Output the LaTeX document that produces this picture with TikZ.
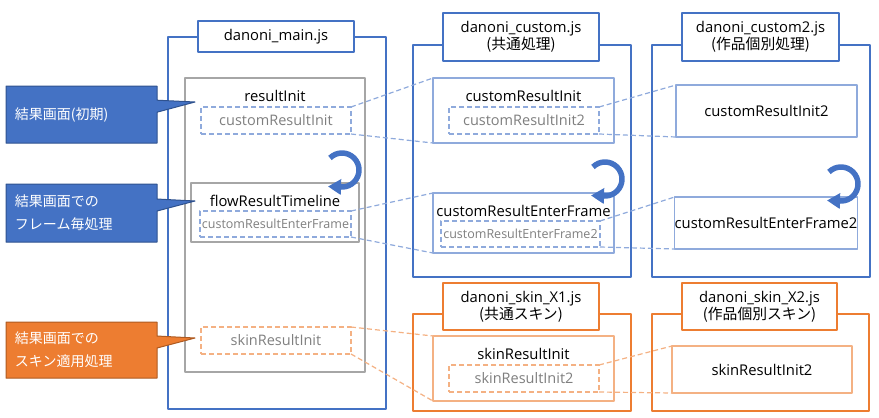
\documentclass[tikz,border=0pt]{standalone}
\usepackage{fontspec}
\setmainfont{Open Sans}
\newfontfamily\jp{Noto Sans CJK JP}
\usetikzlibrary{shapes.callouts,arrows.meta}
\definecolor{ofblue}{HTML}{4472C4}
\definecolor{lblue}{HTML}{8FAADC}
\definecolor{cdblue}{HTML}{2F528F}
\definecolor{oforange}{HTML}{ED7D31}
\definecolor{lorange}{HTML}{F4B183}
\definecolor{cdorange}{HTML}{AE5A21}
\definecolor{gline}{HTML}{A6A6A6}
\definecolor{txtgray}{HTML}{7F7F7F}
\begin{document}
\begin{tikzpicture}[x=1pt,y=-1pt,line join=round,
  every node/.style={inner sep=0pt,outer sep=0pt,font=\fontsize{14.8}{17}\selectfont},
  jsfile/.style={draw=#1,line width=1.4pt},
  jstitle/.style={draw=#1,line width=1.4pt,fill=white,align=center,font=\fontsize{14.8}{17}\selectfont},
  func/.style={draw=#1,line width=1.2pt,fill=white},
  hook/.style={draw=#1,line width=1.2pt,dash pattern=on 5pt off 3pt,text=txtgray,font=\fontsize{14.5}{17}\selectfont},
  small/.style={font=\fontsize{12.5}{14}\selectfont},
  link/.style={draw=#1,line width=1.2pt,dash pattern=on 5pt off 3pt},
  loop/.style={draw=ofblue,line width=5.5pt,-{Triangle[length=13pt,width=15pt]}},
  note/.style={rectangle callout,fill=#1,text=white,align=left,text width=133pt,inner sep=9pt,
    line width=1pt,font=\jp\fontsize{14}{23}\selectfont,callout pointer width=12pt}]
\useasboundingbox (0,0) rectangle (879,418);

% danoni_main.js
\node[jsfile=ofblue,minimum width=218,minimum height=372] (mainF) at (277,223) {};
\node[jstitle=ofblue,minimum width=156,minimum height=31] (mainT) at (276,36.5) {danoni\_main.js};
\node[draw=gline,line width=1.2pt,minimum width=180,minimum height=294] (resInit) at (275,225) {};
\node (resInitL) at (275,96) {resultInit};
\node[hook=lblue,minimum width=150,minimum height=27] (mCRI) at (276,120.5) {customResultInit};
\node[draw=gline,line width=1.2pt,fill=white,minimum width=168,minimum height=59] (flowTL) at (275,212.5) {};
\node (flowTLL) at (275,201) {flowResultTimeline};
\node[hook=lblue,small,minimum width=151,minimum height=26] (mCREF) at (275.5,224) {customResultEnterFrame};
\node[hook=lorange,minimum width=150,minimum height=27] (mSRI) at (276,340.5) {skinResultInit};

% danoni_custom.js
\node[jsfile=ofblue,minimum width=218,minimum height=232] (custF) at (522,161) {};
\node[jstitle=ofblue,minimum width=156,minimum height=48] (custT) at (521,37) {danoni\_custom.js\\{\jp (共通処理)}};
\node[func=lblue,minimum width=181,minimum height=65] (cCRIB) at (523.5,110.5) {};
\node (cCRIL) at (523.5,96) {customResultInit};
\node[hook=lblue,minimum width=150,minimum height=27] (cCRI2) at (524,120.5) {customResultInit2};
\node[func=lblue,minimum width=181,minimum height=60] (cCREFB) at (523.5,223) {};
\node (cCREFL) at (523.5,211) {customResultEnterFrame};
\node[hook=lblue,small,minimum width=159,minimum height=26] (cCREF2) at (520.5,234) {customResultEnterFrame2};

% danoni_custom2.js
\node[jsfile=ofblue,minimum width=218,minimum height=232] (cust2F) at (761,161) {};
\node[jstitle=ofblue,minimum width=157,minimum height=48] (cust2T) at (760.5,37) {danoni\_custom2.js\\{\jp (作品個別処理)}};
\node[func=lblue,minimum width=181,minimum height=52] (c2CRI) at (766.5,111) {customResultInit2};
\node[func=lblue,minimum width=180,minimum height=52] (c2CREF) at (766,223) {customResultEnterFrame2};

% danoni_skin_X1.js / X2.js
\node[jsfile=oforange,minimum width=218,minimum height=97] (skinF) at (522,362.5) {};
\node[jstitle=oforange,minimum width=156,minimum height=47] (skinT) at (521,306.5) {danoni\_skin\_X1.js\\{\jp (共通スキン)}};
\node[func=lorange,minimum width=181,minimum height=65] (sSRIB) at (523.5,368.5) {};
\node (sSRIL) at (523.5,354) {skinResultInit};
\node[hook=lorange,minimum width=150,minimum height=27] (sSRI2) at (524,378.5) {skinResultInit2};
\node[jsfile=oforange,minimum width=217,minimum height=97] (skin2F) at (760.5,362.5) {};
\node[jstitle=oforange,minimum width=155,minimum height=47] (skin2T) at (759.5,306.5) {danoni\_skin\_X2.js\\{\jp (作品個別スキン)}};
\node[func=lorange,minimum width=180,minimum height=47] (s2SRI) at (762,369.5) {skinResultInit2};

% dashed links
\draw[link=lblue] (mCRI.north east) -- (cCRIB.north west);
\draw[link=lblue] (mCRI.south east) -- (cCRIB.south west);
\draw[link=lblue] (cCRI2.north east) -- (c2CRI.north west);
\draw[link=lblue] (cCRI2.south east) -- (c2CRI.south west);
\draw[link=lblue] (mCREF.north east) -- (cCREFB.north west);
\draw[link=lblue] (mCREF.south east) -- (cCREFB.south west);
\draw[link=lblue] (cCREF2.north east) -- (c2CREF.north west);
\draw[link=lblue] (cCREF2.south east) -- (c2CREF.south west);
\draw[link=lorange] (mSRI.north east) -- (sSRIB.north west);
\draw[link=lorange] (mSRI.south east) -- (sSRIB.south west);
\draw[link=lorange] (sSRI2.north east) -- (s2SRI.north west);
\draw[link=lorange] (sSRI2.south east) -- (s2SRI.south west);

% loops
\foreach \cx/\cy in {342/170,605/179,841/184}
  \draw[loop] (\cx,\cy) ++(135:17pt) arc[start angle=135,end angle=-90,radius=17pt] -- ++(-14pt,0.5pt);

% callouts
\node[note=ofblue,draw=cdblue,minimum height=57,callout absolute pointer={(195,102)}] (cInit) at (81.5,114.5) {結果画面(初期)};
\node[note=ofblue,draw=cdblue,minimum height=58,callout absolute pointer={(195,201)}] (cFrame) at (81.5,213) {結果画面での\\フレーム毎処理};
\node[note=oforange,draw=cdorange,minimum height=56,callout absolute pointer={(195,338)}] (cSkin) at (81.5,350) {結果画面での\\スキン適用処理};
\end{tikzpicture}
\end{document}
